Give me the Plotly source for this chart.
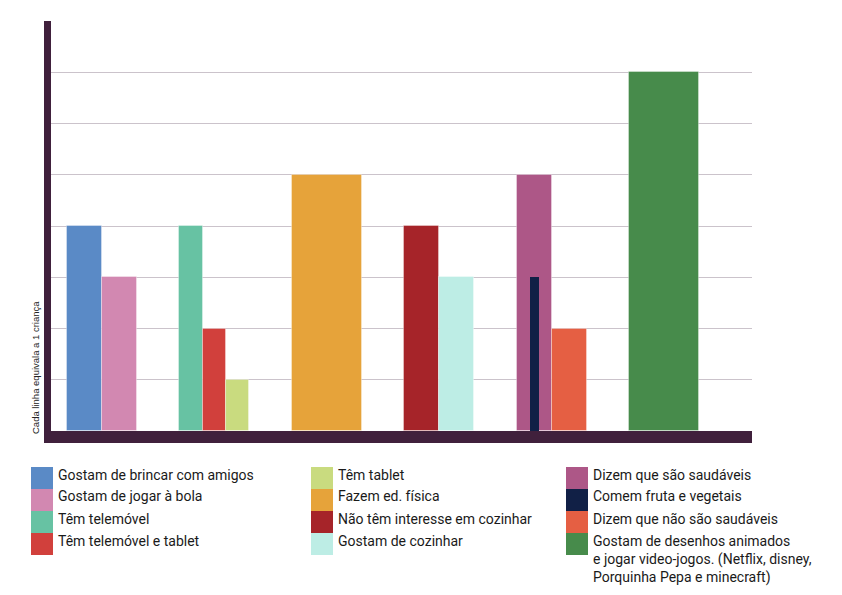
import plotly.graph_objects as go

# ---- data ----
labels = [
    "Gostam de brincar com amigos",
    "Gostam de jogar à bola",
    "Têm telemóvel",
    "Têm telemóvel e tablet",
    "Têm tablet",
    "Fazem ed. física",
    "Não têm interesse em cozinhar",
    "Gostam de cozinhar",
    "Dizem que são saudáveis",
    "Comem fruta e vegetais",
    "Dizem que não são saudáveis",
    "Gostam de desenhos animados<br>e jogar video-jogos. (Netflix, disney,<br>Porquinha Pepa e minecraft)",
]
values = [4, 3, 4, 2, 1, 5, 4, 3, 5, 3, 2, 7]
colors = ["#5a8ac6", "#d288b1", "#67c2a3", "#d1403c", "#c9db7f", "#e6a33a",
          "#a62429", "#bdede5", "#ad5787", "#112046", "#e55f43", "#478b4b"]
# group membership (slots) ; item 9 is drawn inside item 8
groups = [[0, 1], [2, 3, 4], [5], [6, 7], [8, 10], [11]]
inner = {9: 8}
y_title = "Cada linha equivala a 1 criança"

# ---- layout geometry ----
L, R, T, B = 51, 752, 21, 431
W_PX, H_PX = R - L, B - T
GW = 0.6225
inner_w = 0.08

def px(x):
    return (x - L) / W_PX

def py(y):
    return (B - y) / H_PX

fig = go.Figure()
slot_center = {}
for g, members in enumerate(groups):
    n = len(members)
    sw = GW / n
    for k, i in enumerate(members):
        off = -GW / 2 + k * sw
        slot_center[i] = (g, off + sw / 2)
        fig.add_trace(go.Bar(
            x=[g], y=[values[i]], width=[sw], offset=[off],
            marker=dict(color=colors[i], line=dict(color="rgba(255,255,255,0.35)", width=1)),
            name=labels[i], showlegend=False, hoverinfo="name+y"))
for i, parent in inner.items():
    g, c = slot_center[parent]
    fig.add_trace(go.Bar(
        x=[g], y=[values[i]], width=[inner_w], offset=[c - inner_w / 2],
        marker=dict(color=colors[i], line=dict(width=0)),
        name=labels[i], showlegend=False, hoverinfo="name+y"))

axis_col = "#40203c"
shapes = [
    dict(type="rect", xref="paper", yref="paper", x0=px(44), x1=px(51), y0=py(443), y1=py(21),
         fillcolor=axis_col, line=dict(width=0), layer="above"),
    dict(type="rect", xref="paper", yref="paper", x0=px(44), x1=px(752), y0=py(443), y1=py(431),
         fillcolor=axis_col, line=dict(width=0), layer="above"),
]
annotations = [
    dict(text=y_title, xref="paper", yref="paper",
         x=px(35.5), y=py(436), xanchor="center", yanchor="bottom", textangle=-90,
         showarrow=False, font=dict(family="Liberation Sans", size=9.5, color="#222222")),
]

# legend (three columns)
legend_order = [[0, 1, 2, 3], [4, 5, 6, 7], [8, 9, 10, 11]]
col_x = [31, 311, 566]
row_top = 467
row_h = 22
for c, items in enumerate(legend_order):
    for r, i in enumerate(items):
        y0 = row_top + r * row_h
        shapes.append(dict(type="rect", xref="paper", yref="paper",
                           x0=px(col_x[c]), x1=px(col_x[c] + 22), y0=py(y0 + row_h), y1=py(y0),
                           fillcolor=colors[i], line=dict(width=0)))
        annotations.append(dict(text=labels[i], xref="paper", yref="paper",
                                x=px(col_x[c] + 25), y=py(y0 - 2.5), xanchor="left", yanchor="top",
                                align="left", showarrow=False,
                                font=dict(family="Roboto", size=14, color="#1a1a1a")))

fig.update_layout(
    width=842, height=595,
    margin=dict(l=L, r=842 - R, t=T, b=595 - B, pad=0),
    paper_bgcolor="white", plot_bgcolor="white",
    barmode="overlay", bargap=0,
    xaxis=dict(range=[(L - 102) / 112.45, (R - 102) / 112.45], showgrid=False, zeroline=False,
               showticklabels=False, ticks="", fixedrange=True),
    yaxis=dict(range=[0, 8], dtick=1, showgrid=True, gridcolor="#cbc3cb", gridwidth=1,
               zeroline=False, showticklabels=False, ticks="", fixedrange=True),
    shapes=shapes, annotations=annotations, showlegend=False,
)

fig.write_html("out.html")
